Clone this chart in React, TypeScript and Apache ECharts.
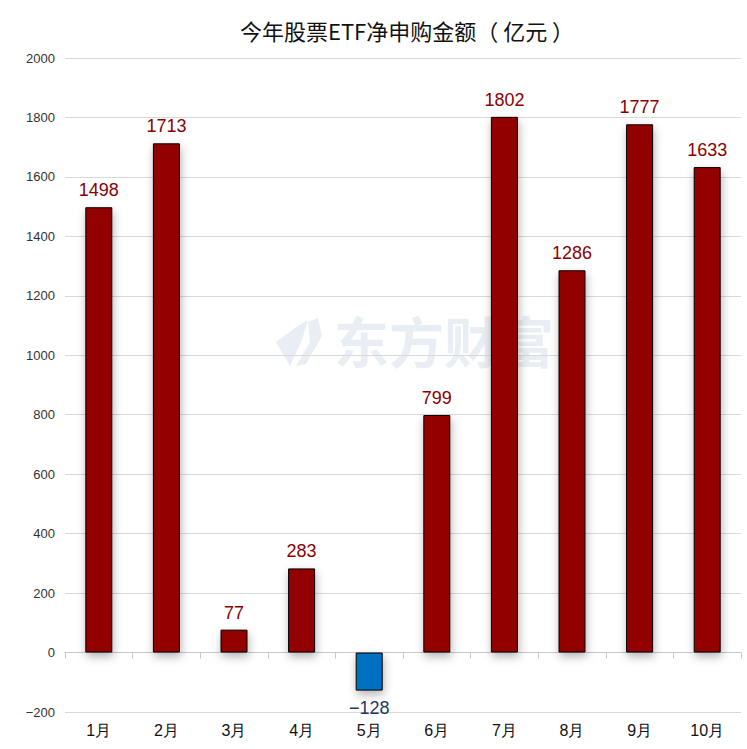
import React, { useEffect, useRef } from "react";
import * as echarts from "echarts";

const categories = ["1月", "2月", "3月", "4月", "5月", "6月", "7月", "8月", "9月", "10月"];
const values = [1498, 1713, 77, 283, -128, 799, 1802, 1286, 1777, 1633];
const titleText = "今年股票ETF净申购金额（ 亿元 ）";
const watermarkText = "东方财富";

export default function App() {
  const ref = useRef<HTMLDivElement>(null);
  useEffect(() => {
    if (!ref.current) return;
    const chart = echarts.init(ref.current, null, { renderer: "svg" });
    const wm = "rgba(226,234,241,0.8)";
    chart.setOption({
      animation: false,
      backgroundColor: "#ffffff",
      title: {
        text: titleText,
        left: 402,
        top: 14,
        textAlign: "center",
        textStyle: { fontFamily: "Noto Sans CJK SC", fontSize: 22, fontWeight: "normal", color: "#111" },
      },
      graphic: [
        {
          type: "text",
          left: 334,
          top: 311,
          z: 0,
          style: {
            text: watermarkText,
            font: "bold 55px 'Noto Sans CJK SC'",
            fill: wm,
          },
        },
        {
          type: "polygon",
          z: 0,
          shape: { points: [[276, 342], [298, 326], [308, 320], [302, 340], [290, 366]] },
          style: { fill: wm },
        },
        {
          type: "polygon",
          z: 0,
          shape: { points: [[308, 322], [318, 318], [322, 336], [306, 364], [296, 366], [310, 342]] },
          style: { fill: wm },
        },
      ],
      grid: { left: 65, right: 6, top: 58, bottom: 37 },
      xAxis: {
        type: "category",
        data: categories,
        axisLine: { onZero: true, lineStyle: { color: "#c8c8c8" } },
        axisTick: { show: true, length: 6, lineStyle: { color: "#c8c8c8" } },
        axisLabel: { color: "#111", fontSize: 16, fontFamily: "Liberation Sans", margin: 10 },
        position: "bottom",
      },
      yAxis: {
        type: "value",
        min: -200,
        max: 2000,
        interval: 200,
        axisLine: { show: false },
        axisTick: { show: false },
        axisLabel: {
          color: "#333",
          fontSize: 13,
          fontFamily: "Liberation Sans",
          margin: 10,
          formatter: (v: number) => (v < 0 ? "\u2212" + Math.abs(v) : String(v)),
        },
        splitLine: { lineStyle: { color: "#d9d9d9" } },
      },
      series: [
        {
          type: "bar",
          barWidth: 27,
          data: values.map((v) => ({
            value: v,
            itemStyle: {
              color: v >= 0 ? "#920000" : "#0070c0",
              borderColor: "#000",
              borderWidth: 1,
              shadowColor: "rgba(0,0,0,0.3)",
              shadowBlur: 10,
              shadowOffsetX: 1,
              shadowOffsetY: 4,
            },
            label: {
              show: true,
              position: v >= 0 ? "top" : "bottom",
              distance: 8,
              color: v >= 0 ? "#8b0000" : "#1f3864",
              fontSize: 18,
              fontFamily: "Liberation Sans",
              formatter: v < 0 ? "\u2212" + Math.abs(v) : String(v),
            },
          })),
        },
      ],
    });
    return () => chart.dispose();
  }, []);
  return <div ref={ref} style={{ position: "absolute", left: 0, top: 0, width: 747, height: 749 }} />;
}
